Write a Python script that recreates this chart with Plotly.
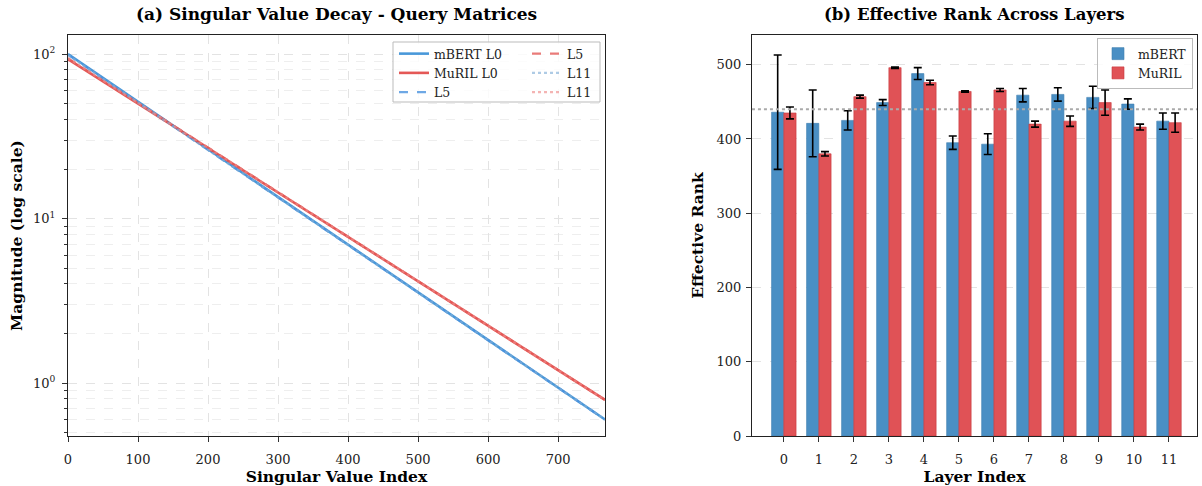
import plotly.graph_objects as go

# ---- Data: singular value decay (read at selected indices) ----
sv_index = [0, 100, 200, 300, 400, 500, 600, 700, 767]
mbert_l0 = [100.0, 51.3, 26.3, 13.5, 6.9, 3.55, 1.82, 0.93, 0.60]
muril_l0 = [93.0, 50.0, 26.8, 14.4, 7.75, 4.15, 2.23, 1.20, 0.79]
mbert_l5 = [99.0, 51.0, 26.2, 13.5, 6.9, 3.55, 1.82, 0.93, 0.60]
muril_l5 = [94.0, 50.2, 26.9, 14.45, 7.75, 4.16, 2.23, 1.20, 0.79]
mbert_l11 = [98.5, 50.9, 26.2, 13.45, 6.9, 3.54, 1.82, 0.93, 0.60]
muril_l11 = [94.5, 50.3, 26.9, 14.45, 7.76, 4.16, 2.24, 1.20, 0.79]

# ---- Data: effective rank across layers ----
layers = [0, 1, 2, 3, 4, 5, 6, 7, 8, 9, 10, 11]
mbert_rank = [436, 421, 425, 449, 488, 395, 393, 459, 460, 456, 447, 424]
mbert_err = [77, 45, 13, 4, 8, 9, 14, 9, 9, 15, 7, 11]
muril_rank = [435, 380, 457, 496, 476, 464, 466, 420, 424, 449, 416, 422]
muril_err = [8, 3, 2, 1, 3, 1, 2, 4, 7, 17, 4, 13]
mean_rank = 440

SERIF = "DejaVu Serif"
L_PX, T_PX, PLOT_W, PLOT_H = 68, 35, 1129, 401

fig = go.Figure()

line_specs = [
    ("mBERT L0", mbert_l0, "rgba(58,143,214,0.92)", "solid", 2.6, "legend"),
    ("MuRIL L0", muril_l0, "rgba(226,74,72,0.92)", "solid", 2.6, "legend"),
    ("L5", mbert_l5, "rgba(74,146,222,0.8)", "dash", 2.3, "legend"),
    ("L5", muril_l5, "rgba(228,90,88,0.8)", "dash", 2.3, "legend2"),
    ("L11", mbert_l11, "rgba(130,175,215,0.65)", "dot", 2.3, "legend2"),
    ("L11", muril_l11, "rgba(238,140,138,0.65)", "dot", 2.3, "legend2"),
]
for name, vals, col, dash, w, lg in line_specs:
    fig.add_trace(go.Scatter(
        x=sv_index, y=vals, mode="lines", name=name,
        line=dict(color=col, dash=dash, width=w),
        xaxis="x", yaxis="y", legend=lg,
    ))

fig.add_trace(go.Bar(
    x=layers, y=mbert_rank, name="mBERT", width=0.35, offset=-0.35,
    marker=dict(color="#4a8fc4", line=dict(color="#3f7fb0", width=0.6)),
    error_y=dict(type="data", array=mbert_err, color="black", thickness=1.6, width=4),
    xaxis="x2", yaxis="y2", legend="legend3",
))
fig.add_trace(go.Bar(
    x=layers, y=muril_rank, name="MuRIL", width=0.35, offset=0.0,
    marker=dict(color="#e05256", line=dict(color="#c8383c", width=0.6)),
    error_y=dict(type="data", array=muril_err, color="black", thickness=1.6, width=4),
    xaxis="x2", yaxis="y2", legend="legend3",
))

tick_font = dict(family=SERIF, size=13, color="#222")
title_font = dict(family=SERIF, size=15.5, color="black")
leg_font = dict(family=SERIF, size=12.5, color="#222")
grid_col = "#e3e3e3"

minor_vals = [v * d for d in [0.1, 1, 10, 100] for v in range(2, 10)]
minor_vals = [v for v in minor_vals if 0.47 < v < 131]


def px_x(px):
    return (px - L_PX) / PLOT_W


def px_y(py):
    return (T_PX + PLOT_H - py) / PLOT_H


fig.update_layout(
    width=1202, height=486,
    margin=dict(l=L_PX, r=1202 - L_PX - PLOT_W, t=T_PX, b=486 - T_PX - PLOT_H, autoexpand=False),
    paper_bgcolor="white", plot_bgcolor="white",
    font=dict(family=SERIF, color="black"),
    showlegend=True,
    xaxis=dict(
        domain=[0, 0.4756], range=[0, 767],
        tickvals=[0, 100, 200, 300, 400, 500, 600, 700],
        ticks="outside", ticklen=5, tickcolor="#333", ticklabelstandoff=6,
        showline=True, mirror=True, linecolor="#222", linewidth=1.2,
        showgrid=True, gridcolor=grid_col, griddash="dash", gridwidth=1,
        zeroline=False, tickfont=tick_font, automargin=False,
        title=dict(text="<b>Singular Value Index</b>", font=title_font, standoff=6),
    ),
    yaxis=dict(
        type="log", range=[-0.322, 2.1156],
        tickvals=[1, 10, 100], ticktext=["10<sup>0</sup>", "10<sup>1</sup>", "10<sup>2</sup>"],
        ticks="outside", ticklen=5, tickcolor="#333", ticklabelstandoff=4,
        showline=True, mirror=True, linecolor="#222", linewidth=1.2,
        showgrid=True, gridcolor=grid_col, griddash="dash", gridwidth=1,
        minor=dict(tickvals=minor_vals, ticks="outside", ticklen=3, tickcolor="#333",
                   showgrid=True, gridcolor="#eeeeee", griddash="dash"),
        zeroline=False, tickfont=tick_font, automargin=False,
        title=dict(text="<b>Magnitude (log scale)</b>", font=title_font, standoff=6),
    ),
    xaxis2=dict(
        domain=[0.6058, 1.0], range=[-0.91, 11.8],
        tickvals=layers, ticks="outside", ticklen=5, tickcolor="#333", ticklabelstandoff=6,
        showline=True, mirror=True, linecolor="#222", linewidth=1.2,
        showgrid=False, zeroline=False, tickfont=tick_font, anchor="y2", automargin=False,
        title=dict(text="<b>Layer Index</b>", font=title_font, standoff=6),
    ),
    yaxis2=dict(
        range=[0, 540], tickvals=[0, 100, 200, 300, 400, 500],
        ticks="outside", ticklen=5, tickcolor="#333", ticklabelstandoff=2,
        showline=True, mirror=True, linecolor="#222", linewidth=1.2,
        showgrid=True, gridcolor=grid_col, griddash="dash", gridwidth=1,
        zeroline=False, tickfont=tick_font, anchor="x2", automargin=False,
        title=dict(text="<b>Effective Rank</b>", font=title_font, standoff=8),
    ),
    legend=dict(x=px_x(394), y=px_y(39), xanchor="left", yanchor="top",
                bgcolor="rgba(0,0,0,0)", borderwidth=0,
                font=leg_font, tracegroupgap=0, itemwidth=30),
    legend2=dict(x=px_x(527), y=px_y(39), xanchor="left", yanchor="top",
                 bgcolor="rgba(0,0,0,0)", borderwidth=0,
                 font=leg_font, tracegroupgap=0, itemwidth=30),
    legend3=dict(x=px_x(1097), y=px_y(38), xanchor="left", yanchor="top",
                 bgcolor="rgba(255,255,255,0.85)", bordercolor="#bbbbbb", borderwidth=1,
                 font=leg_font, tracegroupgap=0, itemwidth=30),
    shapes=[
        dict(type="rect", xref="paper", yref="paper",
             x0=px_x(393), x1=px_x(600), y0=px_y(102), y1=px_y(42),
             line=dict(color="#bbbbbb", width=1), fillcolor="rgba(255,255,255,0.8)",
             layer="above"),
        dict(type="line", xref="x2 domain", yref="y2", x0=0, x1=1,
             y0=mean_rank, y1=mean_rank,
             line=dict(color="#aaaaaa", width=1.8, dash="dot"), layer="above"),
    ],
    annotations=[
        dict(text="<b>(a) Singular Value Decay - Query Matrices</b>", xref="paper", yref="paper",
             x=0.4756 / 2, y=1.0, yshift=9, xanchor="center", yanchor="bottom",
             showarrow=False, font=dict(family=SERIF, size=17, color="black")),
        dict(text="<b>(b) Effective Rank Across Layers</b>", xref="paper", yref="paper",
             x=(0.6058 + 1) / 2, y=1.0, yshift=9, xanchor="center", yanchor="bottom",
             showarrow=False, font=dict(family=SERIF, size=16.5, color="black")),
    ],
)

fig.write_html("out.html", config={"displayModeBar": False},
               post_script="document.body.style.margin='0';document.body.style.padding='0';")
